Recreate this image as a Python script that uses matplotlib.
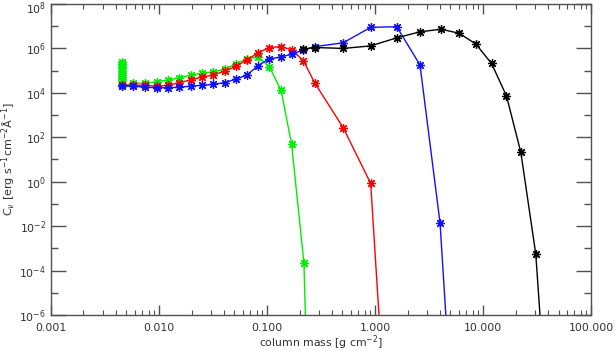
import numpy as np
import matplotlib
matplotlib.use("Agg")
import matplotlib.pyplot as plt
import matplotlib.transforms as mtransforms
from matplotlib.ticker import LogLocator, FixedLocator, NullFormatter, FuncFormatter

# column mass [g cm^-2] and contribution function for four runs
greenMass = [0.00459] * 12 + [
             0.00578, 0.00741, 0.00953, 0.0122, 0.0154, 0.0197, 0.0248, 0.0318,
             0.0406, 0.0516, 0.0649, 0.0830, 0.105, 0.135, 0.169, 0.220, 0.235]
greenC = [2.4e5, 2.0e5, 1.6e5, 1.3e5, 1.0e5, 8.0e4, 6.5e4, 5.2e4, 4.2e4, 3.3e4, 2.6e4, 2.0e4,
          2.7e4, 2.7e4, 3.2e4, 3.8e4, 4.8e4, 6.3e4, 7.6e4, 8.9e4,
          1.15e5, 2.0e5, 3.4e5, 4.1e5, 1.5e5, 1.3e4, 48, 2.1e-4, 1e-9]

redMass = [0.00459, 0.00578, 0.00741, 0.00953, 0.0122, 0.0154, 0.0197, 0.0248,
           0.0318, 0.0406, 0.0516, 0.0649, 0.0830, 0.105, 0.135, 0.171, 0.217,
           0.278, 0.508, 0.912, 1.19]
redC = [2.2e4, 2.2e4, 2.2e4, 2.0e4, 2.2e4, 2.9e4, 3.8e4, 5.2e4,
        6.3e4, 9.6e4, 1.56e5, 3.0e5, 6.4e5, 1.1e6, 1.2e6, 8.5e5, 2.8e5,
        2.7e4, 268, 0.84, 1e-9]

blueMass = [0.00459, 0.00578, 0.00741, 0.00953, 0.0122, 0.0154, 0.0197, 0.0248,
            0.0318, 0.0406, 0.0516, 0.0649, 0.0830, 0.105, 0.135, 0.171, 0.217,
            0.278, 0.508, 0.912, 1.59, 2.61, 4.00, 4.95]
blueC = [2.0e4, 2.0e4, 1.8e4, 1.7e4, 1.7e4, 1.8e4, 2.0e4, 2.2e4,
         2.4e4, 2.9e4, 4.1e4, 6.3e4, 1.7e5, 3.4e5, 4.1e5, 5.6e5, 8.5e5,
         1.2e6, 1.8e6, 8.9e6, 9.5e6, 1.8e5, 0.014, 1e-9]

blackMass = [0.217, 0.278, 0.508, 0.912, 1.59, 2.61, 4.08, 6.04, 8.61,
             12.0, 16.5, 22.4, 30.8, 37.2]
blackC = [9.4e5, 1.1e6, 1.0e6, 1.3e6, 3.0e6, 5.6e6, 7.3e6, 4.8e6, 1.55e6,
          2.1e5, 7.2e3, 21, 5.5e-4, 1e-9]

xTicks = [0.001, 0.01, 0.1, 1.0, 10.0, 100.0]
xTickLabels = ["0.001", "0.010", "0.100", "1.000", "10.000", "100.000"]

plt.rcParams['font.family'] = ['DejaVu Sans']
fig = plt.figure(figsize=(6.15, 3.51), dpi=100)
ax = fig.add_axes([0.0829, 0.1026, 0.8781, 0.886])

asterisk = (8, 2, 0)
for mass, c, col in [(greenMass, greenC, '#00ee00'),
                     (redMass, redC, '#ff0000'),
                     (blueMass, blueC, '#1010ff'),
                     (blackMass, blackC, '#000000')]:
    ax.plot(mass, c, color=col, lw=1.0, marker=asterisk, ms=6.5, mew=0.9)

ax.set_xscale('log')
ax.set_yscale('log')
ax.set_xlim(1e-3, 1e2)
ax.set_ylim(1e-6, 1e8)

ax.xaxis.set_major_locator(FixedLocator(xTicks))
ax.xaxis.set_major_formatter(FuncFormatter(lambda v, p: xTickLabels[xTicks.index(v)] if v in xTicks else ""))
ax.xaxis.set_minor_locator(LogLocator(base=10, subs=np.arange(2, 10), numticks=20))
ax.xaxis.set_minor_formatter(NullFormatter())

ax.yaxis.set_major_locator(FixedLocator([10.0 ** k for k in range(-6, 9, 2)]))
ax.yaxis.set_major_formatter(FuncFormatter(lambda v, p: r"$10^{%d}$" % round(np.log10(v))))
ax.yaxis.set_minor_locator(FixedLocator([10.0 ** k for k in range(-5, 8, 2)]))
ax.yaxis.set_minor_formatter(NullFormatter())

axisColor = '#505050'
for s in ax.spines.values():
    s.set_color(axisColor)
    s.set_linewidth(1.0)
ax.tick_params(which='both', direction='in', top=True, right=True, colors=axisColor,
               labelcolor='#303030', labelsize=7.8)
ax.tick_params(axis='y', which='major', length=11, width=1.0)
ax.tick_params(axis='y', which='minor', length=5, width=1.0)
ax.tick_params(axis='x', which='major', length=7, width=1.0, pad=6)
ax.tick_params(axis='x', which='minor', length=3.5, width=0.8)

ax.set_xlabel(r"column mass [g cm$^{-2}$]", fontsize=7.8, color='#303030', labelpad=0)
ax.set_ylabel(r"C$_\nu$ [erg s$^{-1}$cm$^{-2}$Å$^{-1}$]", fontsize=8, color='#303030', labelpad=1)

# nudge the top y label down so it stays inside the figure
fig.canvas.draw()
topLabel = ax.get_yticklabels()[-1]
topLabel.set_transform(topLabel.get_transform() + mtransforms.ScaledTranslation(0, -3 / 100, fig.dpi_scale_trans))

fig.savefig("out.png", dpi=100)
